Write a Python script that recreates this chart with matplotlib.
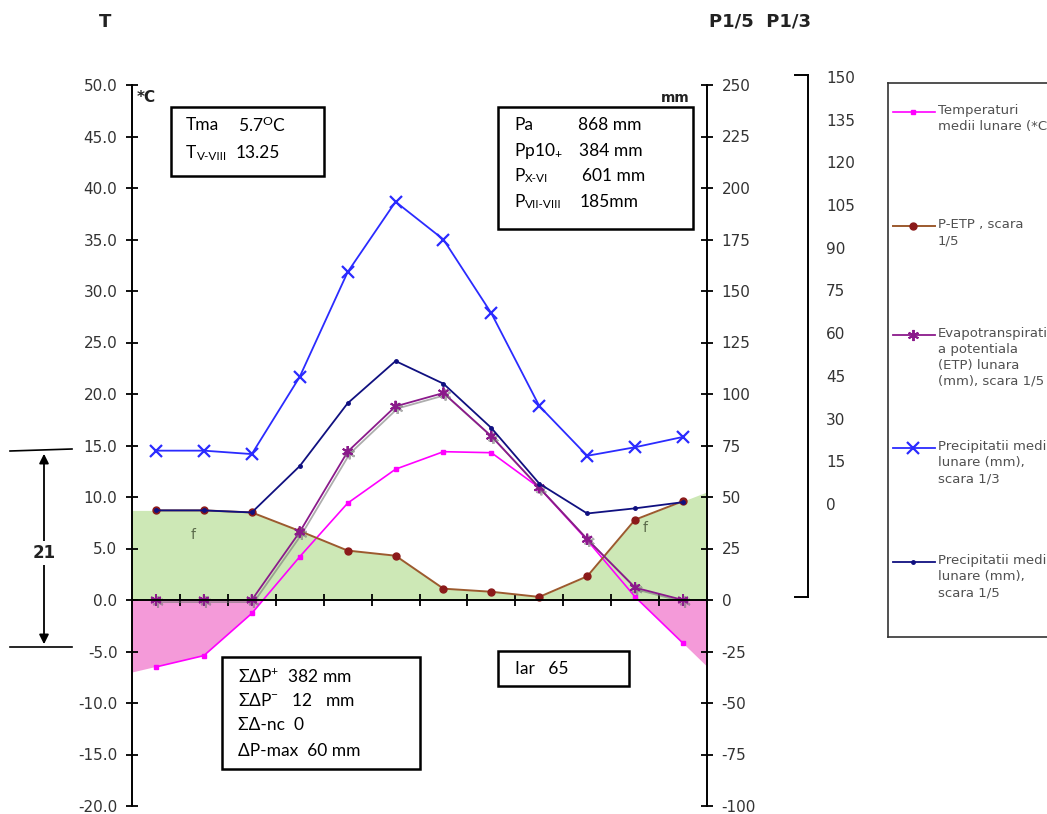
import numpy as np
import matplotlib
matplotlib.use('Agg')
import matplotlib.pyplot as plt
from matplotlib.lines import Line2D
from matplotlib.patches import Rectangle, FancyArrowPatch
import matplotlib.patheffects as pe

plt.rcParams['axes.unicode_minus'] = False
plt.rcParams['mathtext.fontset'] = 'custom'
plt.rcParams['mathtext.rm'] = 'Lato'
plt.rcParams['mathtext.it'] = 'Lato:italic'
plt.rcParams['mathtext.bf'] = 'Lato:bold'

# Monthly data, Jan..Dec
months = ['I', 'II', 'III', 'IV', 'V', 'VI', 'VII', 'VIII', 'IX', 'X', 'XI', 'XII']
temp = [-6.5, -5.4, -1.3, 4.2, 9.4, 12.7, 14.4, 14.3, 10.9, 5.8, 0.3, -4.2]
precip_mm = [43.5, 43.5, 42.5, 65, 95.5, 116, 105, 83.5, 56.5, 42, 44.5, 47.5]
etp_mm = [0, 0, 0, 33, 72, 94, 100.5, 79.5, 54.5, 29.5, 6, 0]
p_etp_mm = [43.5, 43.5, 42.5, 33.5, 24, 21.5, 5.5, 4, 1.5, 11.5, 39, 48]

left_ticks = np.arange(-20, 51, 5)
right_ticks = np.arange(-100, 251, 25)
third_ticks = np.arange(0, 151, 15)

legend_labels = ['Temperaturi\nmedii lunare (*C)',
                 'P-ETP , scara\n1/5',
                 'Evapotranspiratia\na potentiala\n(ETP) lunara\n(mm), scara 1/5',
                 'Precipitatii medii\nlunare (mm),\nscara 1/3',
                 'Precipitatii medii\nlunare (mm),\nscara 1/5']

W, H = 1047, 814
def fx(px):
    return px / W
def fy(py):
    return 1 - py / H

x = np.arange(len(months))
t = np.array(temp)
p5 = np.array(precip_mm) / 5
p3 = np.array(precip_mm) / 3
etp5 = np.array(etp_mm) / 5
pe5 = np.array(p_etp_mm) / 5

# extend half a category to each edge for the shaded areas
def extend(v):
    v = np.asarray(v, float)
    return np.concatenate([[v[0] - 0.5 * (v[1] - v[0])], v, [v[-1] + 0.5 * (v[-1] - v[-2])]])
xe = np.concatenate([[-0.5], x, [len(x) - 0.5]])
te = extend(t)
pee = extend(pe5)

fig = plt.figure(figsize=(W / 100, H / 100), dpi=100)
ax = fig.add_axes([fx(132), fy(806), fx(707) - fx(132), fy(85) - fy(806)])
ax.set_xlim(-0.5, len(x) - 0.5)
ax.set_ylim(-20, 50)

ax.fill_between(xe, 0, pee, where=pee >= 0, interpolate=True, color='#CDE8B6', lw=0, zorder=1)
ax.fill_between(xe, te, 0, where=te < 0, interpolate=True, color='#F49AD9', lw=0, zorder=1)

styles = [
    dict(color='#FF00FF', marker='s', ms=2.5, lw=1.2),
    dict(color='#9C5A2E', marker='o', ms=5, mfc='#8B1A1A', mec='#8B1A1A', lw=1.4),
    dict(color='#8B1A8B', marker=(6, 2, 0), ms=8, mew=1.4, lw=1.3),
    dict(color='#2B2BFF', marker='x', ms=8, mew=1.6, lw=1.3),
    dict(color='#101080', marker='o', ms=2.5, lw=1.3),
]
series = [t, pe5, etp5, p3, p5]
for s, st in zip(series, styles):
    ax.plot(x, s, zorder=3, **st)
ax.lines[2].set_path_effects([pe.SimpleLineShadow(offset=(1.5, -1.5), shadow_color='#777777', alpha=0.6), pe.Normal()])

for sp in ['top', 'right']:
    ax.spines[sp].set_visible(False)
ax.spines['bottom'].set_position(('data', 0))
ax.spines['bottom'].set_zorder(4)
for sp in ['left', 'bottom']:
    ax.spines[sp].set_linewidth(1.4)
ax.set_yticks(left_ticks)
ax.set_yticklabels(['%.1f' % v for v in left_ticks])
ax.set_xticks(np.arange(0.5, len(x) - 1, 1))
ax.set_xticklabels([])
ax.tick_params(axis='both', direction='inout', length=9, width=1.3)
ax.tick_params(axis='y', labelsize=11, labelcolor='#333333', pad=6)

ax2 = ax.twinx()
ax2.set_ylim(-100, 250)
for sp in ['top', 'left', 'bottom']:
    ax2.spines[sp].set_visible(False)
ax2.spines['right'].set_linewidth(1.4)
ax2.set_yticks(right_ticks)
ax2.set_yticklabels(['%d' % v for v in right_ticks])
ax2.tick_params(axis='y', direction='inout', length=9, width=1.3, labelsize=11, labelcolor='#333333', pad=6)

ax.text(0.77, 6.3, 'f', color='#5B6B4B', fontsize=10, ha='center', va='center', zorder=5)
ax.text(10.2, 7.0, 'f', color='#5B6B4B', fontsize=10, ha='center', va='center', zorder=5)

# third decorative axis
ax3 = fig.add_axes([fx(795), fy(597), fx(808) - fx(795), fy(75) - fy(597)])
ax3.set_ylim(-32.7, 150.7)
ax3.set_xticks([])
ax3.spines['left'].set_visible(False)
for sp in ['right', 'top', 'bottom']:
    ax3.spines[sp].set_linewidth(1.4)
ax3.yaxis.tick_right()
ax3.set_yticks(third_ticks)
ax3.tick_params(axis='y', length=0, labelsize=11, labelcolor='#333333', pad=13)
ax3.patch.set_alpha(0)

# titles and unit labels
fig.text(fx(105), fy(22), 'T', fontsize=13, fontweight='bold', ha='center', va='center', color='#222222')
fig.text(fx(760), fy(22), 'P1/5  P1/3', fontsize=13, fontweight='bold', ha='center', va='center', color='#222222')
fig.text(fx(137), fy(97), '*C', fontsize=11, fontweight='bold', ha='left', va='center', color='#222222')
fig.text(fx(690), fy(98), 'mm', fontsize=10, fontweight='bold', ha='right', va='center', color='#222222')

# text boxes
def box(x0, y0, x1, y1):
    fig.patches.append(Rectangle((fx(x0), fy(y1)), fx(x1) - fx(x0), fy(y0) - fy(y1),
                                 transform=fig.transFigure, fill=False, ec='black', lw=1.8))

def btext(px, py, s, size=12.5):
    fig.text(fx(px), fy(py), s, fontsize=size, family=['Lato', 'DejaVu Sans'], ha='left', va='center', color='black')

box(171, 107, 324, 176)
btext(186, 125, 'Tma')
btext(238, 125, r'5.7$^\mathregular{O}$C')
btext(186, 153, 'T')
btext(197, 156, 'V-VIII', size=8.5)
btext(236, 153, '13.25')

box(498, 107, 693, 229)
btext(514, 125, 'Pa')
btext(578, 125, '868 mm')
btext(514, 151, r'Pp10$_\mathregular{+}$')
btext(579, 151, '384 mm')
btext(514, 176, 'P')
btext(525, 179, 'X-VI', size=8.5)
btext(582, 176, '601 mm')
btext(514, 202, 'P')
btext(525, 205, 'VII-VIII', size=8.5)
btext(580, 202, '185mm')

box(222, 657, 420, 769)
btext(238, 676, r'ΣΔP$^\mathregular{+}$  382 mm')
btext(238, 701, r'ΣΔP$^\mathregular{-}$   12   mm')
btext(238, 725, 'ΣΔ-nc  0')
btext(238, 751, 'ΔP-max  60 mm')

box(498, 651, 629, 686)
btext(515, 669, 'Iar   65')

# amplitude annotation
fig.add_artist(Line2D([fx(10), fx(72)], [fy(451), fy(449)], color='black', lw=1.2))
fig.add_artist(Line2D([fx(10), fx(72)], [fy(647), fy(647)], color='black', lw=1.2))
fig.patches.append(FancyArrowPatch((fx(44), fy(451)), (fx(44), fy(647)), transform=fig.transFigure,
                                   arrowstyle='<|-|>', mutation_scale=14, color='black', lw=1.3))
fig.text(fx(44), fy(553), '21', fontsize=12, fontweight='bold', ha='center', va='center', color='#222222',
         bbox=dict(fc='white', ec='none', pad=2))

# legend (drawn by hand, clipped by the figure edge)
lax = fig.add_axes([fx(888), fy(637), fx(1100) - fx(888), fy(83) - fy(637)])
lax.set_xlim(0, 212)
lax.set_ylim(554, 0)
lax.set_xticks([])
lax.set_yticks([])
for sp in lax.spines.values():
    sp.set_linewidth(1.2)
    sp.set_color('#333333')
entry_y = [29, 143, 252, 365, 479]
for ey, st, lab in zip(entry_y, styles, legend_labels):
    d = dict(st)
    d['markevery'] = [1]
    lax.plot([5, 25, 47], [ey, ey, ey], **d)
    lax.text(50, ey - 8, lab, fontsize=9.5, color='#505050', ha='left', va='top', linespacing=1.3)

fig.savefig('out.png', dpi=100)
